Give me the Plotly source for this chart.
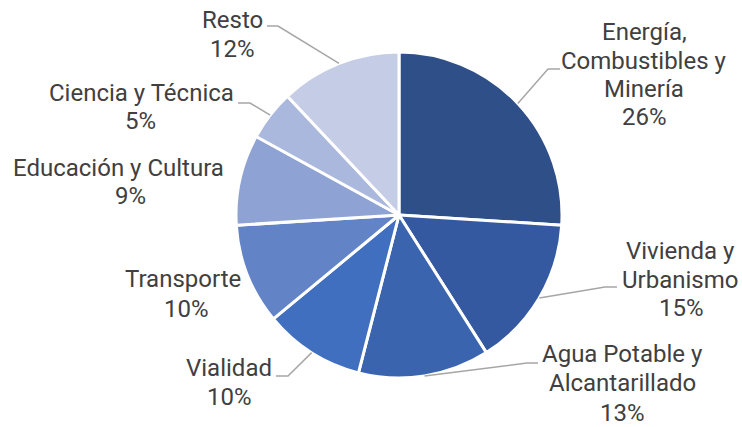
import math
import plotly.graph_objects as go

# ---- data ----
categories = ["Energía,<br>Combustibles y<br>Minería", "Vivienda y<br>Urbanismo",
              "Agua Potable y<br>Alcantarillado", "Vialidad", "Transporte",
              "Educación y Cultura", "Ciencia y Técnica", "Resto"]
values = [26, 15, 13, 10, 10, 9, 5, 12]
colors = ["#2F4F88", "#3459A0", "#3A64AD", "#406FBF", "#6383C7",
          "#8FA2D4", "#ABB8DD", "#C5CDE6"]

# ---- layout (pixels) ----
W, H = 742, 427
CX, CY, R = 399, 215, 163
FS = 24
LINE = 28.7
# (x of name, y of first name line, x of percent, y of percent)
label_pos = [(644, 32, 644, 117.5), (680, 251, 681, 308), (622, 354, 622, 413),
             (229, 368, 229, 397), (183, 279, 186, 308.5), (118, 168, 130, 196),
             (141, 93, 140, 121), (233, 20, 233, 49)]
# leader: (elbow, end) or None
leaders = [((548, 69), (560, 69)), ((605, 287), (617, 287)),
           ((527, 363), (538, 363)), ((288, 376), (276, 376)),
           None, None,
           ((250, 103), (238, 103)), ((278, 26), (267, 26))]


def px(x):
    return x / W


def py(y):
    return 1 - y / H


fig = go.Figure(go.Pie(
    labels=categories, values=values, sort=False, direction="clockwise",
    rotation=0, textinfo="none", hoverinfo="label+percent",
    marker=dict(colors=colors, line=dict(color="white", width=3)),
    domain=dict(x=[px(CX - R), px(CX + R)], y=[py(CY + R), py(CY - R)]),
    showlegend=False,
))

font = dict(family="Roboto", size=FS, color="#404040")
total = sum(values)
annotations = []
shapes = []
cum = 0
for cat, v, (nx, ny, qx, qy), ld in zip(categories, values, label_pos, leaders):
    pct = round(100 * v / total)
    mid = (cum + v / 2) / total
    cum += v
    ang = 2 * math.pi * mid
    sx = CX + R * math.sin(ang)
    sy = CY - R * math.cos(ang)
    for i, line in enumerate(cat.split("<br>")):
        annotations.append(dict(
            x=px(nx), y=py(ny + i * LINE), xref="paper", yref="paper",
            text=line, showarrow=False, align="center",
            xanchor="center", yanchor="middle", font=font,
        ))
    annotations.append(dict(
        x=px(qx), y=py(qy), xref="paper", yref="paper",
        text=f"{pct}%", showarrow=False, align="center",
        xanchor="center", yanchor="middle", font=font,
    ))
    if ld is not None:
        (ex, ey), (tx, ty) = ld
        shapes.append(dict(
            type="path", xref="paper", yref="paper",
            path=f"M {px(sx)} {py(sy)} L {px(ex)} {py(ey)} L {px(tx)} {py(ty)}",
            line=dict(color="#A6A6A6", width=1.5),
        ))

fig.update_layout(
    width=W, height=H, margin=dict(l=0, r=0, t=0, b=0),
    paper_bgcolor="white", plot_bgcolor="white",
    annotations=annotations, shapes=shapes,
)
fig.write_html("out.html", config={"displayModeBar": False},
               post_script="document.body.style.margin='0';")
